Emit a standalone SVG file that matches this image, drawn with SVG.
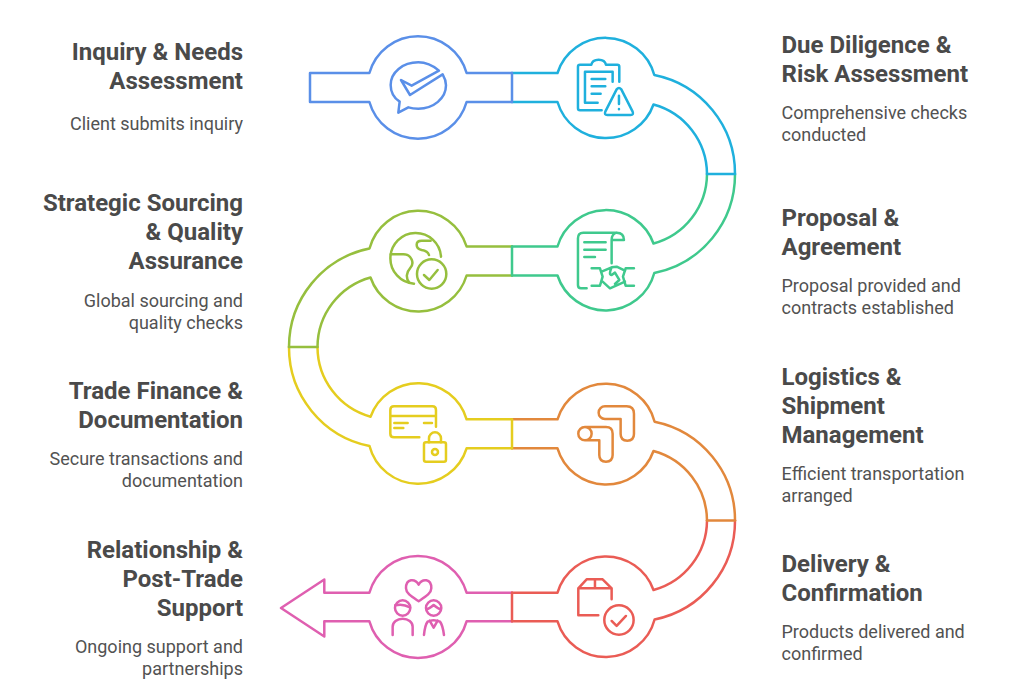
<svg xmlns="http://www.w3.org/2000/svg" width="1024" height="696" viewBox="0 0 1024 696">
<style>
.o{fill:none;stroke-width:2.5;stroke-linejoin:round;stroke-linecap:round}
.i{fill:none;stroke-width:7.5;stroke-linejoin:round;stroke-linecap:round}
.t{font-family:Roboto,"Liberation Sans",sans-serif;font-size:24px;font-weight:700;fill:#4a4a4a}
.d{font-family:Roboto,"Liberation Sans",sans-serif;font-size:18px;fill:#525252}
.e{text-anchor:end}
.c1{stroke:#5a8fe8}.c2{stroke:#1fb0dd}.c3{stroke:#3fc98d}.c4{stroke:#96bf3e}.c5{stroke:#e5cd1f}.c6{stroke:#e2883c}.c7{stroke:#ea5c55}.c8{stroke:#df5fb0}
</style>
<rect width="1024" height="696" fill="#fff"/>
<g id="node-1">
<path class="o c1" d="M512 73H466.6A50.5 50.5 0 0 0 369.4 73H310V102H369.4A50.5 50.5 0 0 0 466.6 102H512"/>
<g class="i c1" transform="translate(300 30) scale(.3333)">
<path d="M417 122C398 106 378 97 355 97C308 97 272 127 272 165C272 186 282 204 299 215L295 248L325 232C335 235 345 236 355 236C401 236 438 205 438 166C438 154 434 143 428 133L330 195L303 150L335 167Z"/>
</g>
<text class="t e" x="243" y="60">Inquiry &amp; Needs</text>
<text class="t e" x="243" y="89">Assessment</text>
<text class="d e" x="243" y="130">Client submits inquiry</text>
</g>
<g id="node-2">
<path class="o c2" d="M512 73H557.5A50.5 50.5 0 0 1 654.3 75A100.5 100.5 0 0 1 735 174M707 174A72.5 72.5 0 0 0 653.5 104.5A50.5 50.5 0 0 1 557.5 102H512"/>
<g class="i c2" transform="translate(300 30) scale(.3333)">
<path d="M958 155V110Q958 104 952 104H918C914 84 878 84 874 104H840Q834 104 834 110V235Q834 241 840 241H905"/>
<path d="M938 155V125H855V218H893M875 147H916M875 169H916M875 191H902"/>
<path d="M950 178Q957 170 964 178L998 245Q1002 255 992 255H922Q912 255 916 245ZM957 197V222M957 237V237.5"/>
</g>
<text class="t" x="781.5" y="53">Due Diligence &amp;</text>
<text class="t" x="781.5" y="82">Risk Assessment</text>
<text class="d" x="781.5" y="119">Comprehensive checks</text>
<text class="d" x="781.5" y="141">conducted</text>
</g>
<g id="node-3">
<path class="o c3" d="M735 174A100.5 100.5 0 0 1 654.3 273A50.5 50.5 0 0 1 557.5 275.5H512M707 174A72.5 72.5 0 0 1 653.5 243.5A50.5 50.5 0 0 0 557.5 246.5H512"/>
<g class="i c3" transform="translate(300 30) scale(.3333)">
<path d="M860 775H843Q834 775 834 765V625Q834 608 850 608H950Q972 608 972 630H935V700M935 630Q935 612 950 608"/>
<path d="M853 637H917M853 659H917M853 681H885"/>
<path d="M875 715H900L908 740L900 767H875M1002 715H977L969 740L977 767H1002"/>
<path d="M905 725L935 712L950 710L975 722M908 755L930 775L975 755M935 712Q925 735 935 735L945 728L958 750L945 762"/>
</g>
<text class="t" x="781.5" y="226">Proposal &amp;</text>
<text class="t" x="781.5" y="255">Agreement</text>
<text class="d" x="781.5" y="292">Proposal provided and</text>
<text class="d" x="781.5" y="314">contracts established</text>
</g>
<g id="node-4">
<path class="o c4" d="M512 246.5H466.6A50.5 50.5 0 0 0 369.5 248.5A100.5 100.5 0 0 0 289 347M317.5 347A72.5 72.5 0 0 1 370.5 277.5A50.5 50.5 0 0 0 466.6 275.5H512"/>
<g class="i c4" transform="translate(300 30) scale(.3333)">
<path d="M423 680A76 76 0 1 0 342 761"/>
<path d="M272 673H310C335 673 345 700 330 715C318 728 318 745 327 757"/>
<path d="M392 632H365C345 632 345 655 365 660C380 662 385 668 387 675"/>
<circle cx="395" cy="732" r="44"/>
<path d="M372 735L388 750L413 720"/>
</g>
<text class="t e" x="243" y="211">Strategic Sourcing</text>
<text class="t e" x="243" y="240">&amp; Quality</text>
<text class="t e" x="243" y="269">Assurance</text>
<text class="d e" x="243" y="307">Global sourcing and</text>
<text class="d e" x="243" y="329">quality checks</text>
</g>
<g id="node-5">
<path class="o c5" d="M289 347A100.5 100.5 0 0 0 369.5 446A50.5 50.5 0 0 0 466.6 448.3H512M317.5 347A72.5 72.5 0 0 0 370.6 416.7A50.5 50.5 0 0 1 466.6 419.3H512"/>
<g class="i c5" transform="translate(270 330) scale(.3333)">
<path d="M498 290V240Q498 229 487 229H372Q361 229 361 240V311Q361 322 372 322H448M361 258H498M373 279H413M373 294H400M462 279H486"/>
<rect x="462" y="337" width="66" height="58" rx="6"/>
<path d="M477 337V325A18 18 0 0 1 513 325V337"/>
<circle cx="495" cy="366" r="9"/>
</g>
<text class="t e" x="243" y="399">Trade Finance &amp;</text>
<text class="t e" x="243" y="428">Documentation</text>
<text class="d e" x="243" y="465">Secure transactions and</text>
<text class="d e" x="243" y="487">documentation</text>
</g>
<g id="node-6">
<path class="o c6" d="M512 419.3H557.5A50.5 50.5 0 0 1 654.6 421.7A100.5 100.5 0 0 1 735 520.5M707 520.5A72.5 72.5 0 0 0 653.5 451A50.5 50.5 0 0 1 557.5 448.3H512"/>
<g class="i c6" transform="translate(270 330) scale(.3333)">
<path d="M1005 229H1070Q1092 229 1092 251V312Q1092 332 1072 332Q1052 332 1052 312V267H1005A19 19 0 0 1 1005 229Z"/>
<path d="M945 291H1008Q1028 291 1028 311V375Q1028 395 1008 395Q988 395 988 375V331H945A20 20 0 0 1 945 291A20 20 0 0 1 945 331"/>
</g>
<text class="t" x="781.5" y="385">Logistics &amp;</text>
<text class="t" x="781.5" y="414">Shipment</text>
<text class="t" x="781.5" y="443">Management</text>
<text class="d" x="781.5" y="480">Efficient transportation</text>
<text class="d" x="781.5" y="502">arranged</text>
</g>
<g id="node-7">
<path class="o c7" d="M735 520.5A100.5 100.5 0 0 1 654.6 619.5A50.5 50.5 0 0 1 557.5 621.3H512M707 520.5A72.5 72.5 0 0 1 653.5 590A50.5 50.5 0 0 0 557.5 592.7H512"/>
<g class="i c7" transform="translate(270 330) scale(.3333)">
<path d="M985 856H925V775L950 748H998L1025 775V808M925 775H1025M975 748V775"/>
<circle cx="1047" cy="870" r="44"/>
<path d="M1025 873L1040 888L1068 858"/>
</g>
<text class="t" x="781.5" y="572">Delivery &amp;</text>
<text class="t" x="781.5" y="601">Confirmation</text>
<text class="d" x="781.5" y="638">Products delivered and</text>
<text class="d" x="781.5" y="660">confirmed</text>
</g>
<g id="node-8">
<path class="o c8" d="M512 592.7H466.6A50.5 50.5 0 0 0 369.4 592.7H324.3V579.5L281 608L324.3 636.5V621.3H369.4A50.5 50.5 0 0 0 466.6 621.3H512"/>
<g class="i c8" transform="translate(270 330) scale(.3333)">
<path d="M446 764C435 745 408 745 408 775C408 790 425 800 446 814C467 800 484 790 484 775C484 745 457 745 446 764Z"/>
<circle cx="398" cy="834" r="23"/>
<path d="M376 826Q398 820 420 832"/>
<path d="M368 915V890A30 24 0 0 1 428 890V915"/>
<circle cx="491" cy="834" r="23"/>
<path d="M470 838Q478 836 491 825Q504 836 512 838"/>
<path d="M462 915Q465 885 473 875Q490 866 510 875Q518 885 522 915M479 872L491 893L503 872"/>
</g>
<text class="t e" x="243" y="558">Relationship &amp;</text>
<text class="t e" x="243" y="587">Post-Trade</text>
<text class="t e" x="243" y="616">Support</text>
<text class="d e" x="243" y="653">Ongoing support and</text>
<text class="d e" x="243" y="675">partnerships</text>
</g>
<g id="connectors">
<path class="o c1" d="M512 73V102"/>
<path class="o c2" d="M707 174H735"/>
<path class="o c3" d="M512 246.5V275.5"/>
<path class="o c4" d="M289 347H317.5"/>
<path class="o c5" d="M512 419.3V448.3"/>
<path class="o c6" d="M707 520.5H735"/>
<path class="o c7" d="M512 592.7V621.3"/>
</g>
</svg>
